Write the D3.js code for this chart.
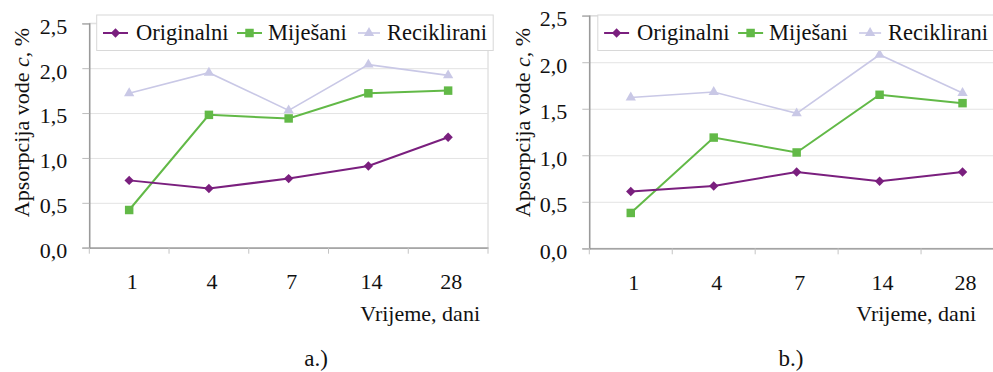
<!DOCTYPE html>
<html>
<head>
<meta charset="utf-8">
<script src="https://cdn.jsdelivr.net/npm/d3@7"></script>
<style>
  html, body { margin: 0; padding: 0; background: #fff; overflow: hidden; }
  svg { display: block; }
  text { font-family: "Liberation Serif", "Times New Roman", serif; fill: #111; }
</style>
</head>
<body>
<svg id="chart" width="993" height="372"></svg>
<script>
// ---------- data ----------
const categories = ["1", "4", "7", "14", "28"];
const seriesNames = ["Originalni", "Miješani", "Reciklirani"];
const yTickValues = [0, 0.5, 1.0, 1.5, 2.0, 2.5];
const yTickLabels = ["0,0", "0,5", "1,0", "1,5", "2,0", "2,5"];
const xAxisTitle = "Vrijeme, dani";
const panelLabels = ["a.)", "b.)"];

// panel a.)
const originalA   = [0.75, 0.66, 0.77, 0.91, 1.23];
const mijesaniA   = [0.42, 1.48, 1.44, 1.72, 1.75];
const recikliraniA = [1.72, 1.95, 1.53, 2.04, 1.92];
// panel b.)
const originalB   = [0.61, 0.67, 0.82, 0.72, 0.82];
const mijesaniB   = [0.38, 1.19, 1.03, 1.65, 1.56];
const recikliraniB = [1.62, 1.68, 1.45, 2.08, 1.67];

// ---------- styles ----------
const colors = ["#7a1f7e", "#62b947", "#c9c8e6"];
const lineWidths = [2, 2, 1.6];
const symbols = ["diamond", "square", "triangle"];
const legendLineOffsets = [6.3, 140.3, 261.3];
const legendTextOffsets = [39.3, 171.3, 290.3];

const svg = d3.select("#chart");

function symbolPath(kind) {
  if (kind === "diamond") return d3.symbol().type(d3.symbolSquare).size(44)();
  if (kind === "square") return d3.symbol().type(d3.symbolSquare).size(72)();
  return d3.symbol().type(d3.symbolTriangle).size(46)();
}
function symbolTransform(kind, x, y) {
  return kind === "diamond" ? `translate(${x},${y}) rotate(45)` : `translate(${x},${y})`;
}

function drawPanel(cfg) {
  const g = svg.append("g");
  const x = d3.scaleBand().domain(categories).range([cfg.left, cfg.right]);
  const y = d3.scaleLinear().domain([0, 2.5]).range([cfg.bottom, cfg.top]);

  // plot border (light)
  g.append("rect")
    .attr("x", cfg.left).attr("y", cfg.top)
    .attr("width", cfg.right - cfg.left).attr("height", cfg.bottom - cfg.top)
    .attr("fill", "none").attr("stroke", "#d4d4d4").attr("stroke-width", 1);

  // gridlines
  const grid = g.append("g").attr("transform", `translate(${cfg.left},0)`)
    .call(d3.axisLeft(y).tickValues(yTickValues).tickSize(-(cfg.right - cfg.left)).tickFormat(""));
  grid.select(".domain").remove();
  grid.selectAll(".tick line").attr("stroke", "#e3e3e3").attr("stroke-width", 1);

  // y axis
  const yAx = g.append("g").attr("transform", `translate(${cfg.left},0)`)
    .call(d3.axisLeft(y).tickValues(yTickValues).tickSize(7).tickPadding(15)
      .tickFormat((d, i) => yTickLabels[i]));
  yAx.select(".domain").attr("stroke", "#8f8f8f").attr("stroke-width", 1.3);
  yAx.selectAll(".tick line").attr("stroke", "#bdbdbd");
  yAx.selectAll(".tick text").attr("font-size", 22).attr("font-family", "Liberation Serif")
    .attr("fill", "#111").attr("dy", "0.45em");

  // x axis labels
  const xAx = g.append("g").attr("transform", `translate(0,${cfg.bottom})`)
    .call(d3.axisBottom(x).tickSize(0).tickPadding(26));
  xAx.select(".domain").attr("stroke", "#8f8f8f").attr("stroke-width", 1.3);
  xAx.selectAll(".tick text").attr("font-size", 22).attr("font-family", "Liberation Serif")
    .attr("fill", "#111").attr("dx", 3);
  // boundary ticks
  const bounds = categories.map(c => x(c)).concat([cfg.right]);
  g.selectAll(".xb").data(bounds).enter().append("line")
    .attr("x1", d => d).attr("x2", d => d)
    .attr("y1", cfg.bottom).attr("y2", cfg.bottom + 6)
    .attr("stroke", "#c4c4c4");

  // series
  const data = [cfg.original, cfg.mijesani, cfg.reciklirani];
  const order = [2, 1, 0];
  const line = d3.line().x((d, i) => x(categories[i]) + x.bandwidth() / 2).y(d => y(d));
  order.forEach(si => {
    g.append("path").datum(data[si]).attr("d", line)
      .attr("fill", "none").attr("stroke", colors[si]).attr("stroke-width", lineWidths[si]);
    g.selectAll(".m" + si).data(data[si]).enter().append("path")
      .attr("d", symbolPath(symbols[si]))
      .attr("transform", (d, i) => symbolTransform(symbols[si], x(categories[i]) + x.bandwidth() / 2, y(d)))
      .attr("fill", colors[si]);
  });

  // legend
  const lg = g.append("g");
  lg.append("rect")
    .attr("x", cfg.legendX).attr("y", 15).attr("width", 396.5).attr("height", 35.5)
    .attr("fill", "#fff").attr("stroke", "#d8d8d8").attr("stroke-width", 1);
  seriesNames.forEach((name, si) => {
    const ly = 33;
    const lx = cfg.legendX + legendLineOffsets[si];
    const len = si === 2 ? 22 : 25;
    lg.append("line").attr("x1", lx).attr("x2", lx + len).attr("y1", ly).attr("y2", ly)
      .attr("stroke", colors[si]).attr("stroke-width", lineWidths[si]);
    lg.append("path").attr("d", symbolPath(symbols[si]))
      .attr("transform", symbolTransform(symbols[si], lx + len / 2, ly)).attr("fill", colors[si]);
    lg.append("text").attr("x", cfg.legendX + legendTextOffsets[si]).attr("y", 40)
      .attr("font-size", 22.5).text(name);
  });

  // y axis title
  const tt = g.append("text")
    .attr("transform", `translate(${cfg.titleX},122.5) rotate(-90)`)
    .attr("text-anchor", "middle").attr("font-size", 22);
  tt.append("tspan").text("Apsorpcija vode ");
  tt.append("tspan").attr("font-style", "italic").text("c");
  tt.append("tspan").text(", %");

  // x axis title
  g.append("text").attr("x", cfg.xTitleRight).attr("y", 321)
    .attr("text-anchor", "end").attr("font-size", 22).text(xAxisTitle);

  // panel label
  g.append("text").attr("x", cfg.labelX).attr("y", 366)
    .attr("text-anchor", "middle").attr("font-size", 23).text(cfg.label);
}

drawPanel({
  left: 89.3, right: 488, top: 23.3, bottom: 247.7,
  legendX: 96.7, titleX: 28.5, xTitleRight: 480, labelX: 316,
  label: panelLabels[0],
  original: originalA, mijesani: mijesaniA, reciklirani: recikliraniA
});
drawPanel({
  left: 589.3, right: 1004, top: 15.7, bottom: 248.3,
  legendX: 597.8, titleX: 529.5, xTitleRight: 976, labelX: 791,
  label: panelLabels[1],
  original: originalB, mijesani: mijesaniB, reciklirani: recikliraniB
});
</script>
</body>
</html>
